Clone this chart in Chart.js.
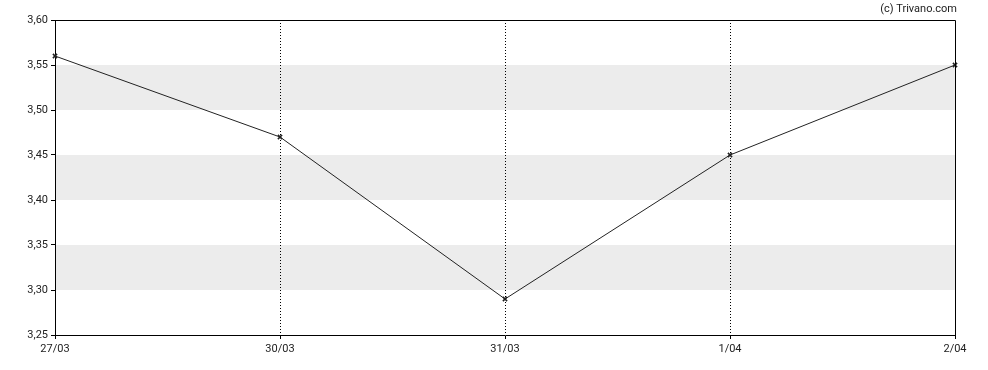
<!DOCTYPE html>
<html>
<head>
<meta charset="utf-8">
<script src="https://cdn.jsdelivr.net/npm/chart.js@4/dist/chart.umd.min.js"></script>
<style>
  html, body { margin: 0; padding: 0; background: #fff; }
  #wrap { width: 988px; height: 370px; }
</style>
</head>
<body>
<div id="wrap"><canvas id="price-chart"></canvas></div>
<script>
// data
const dates = ['27/03', '30/03', '31/03', '1/04', '2/04'];
const prices = [3.56, 3.47, 3.29, 3.45, 3.55];
const yMin = 3.25;
const yMax = 3.60;
const yStep = 0.05;
const bands = [[3.30, 3.35], [3.40, 3.45], [3.50, 3.55]];
const credit = '(c) Trivano.com';

const fmt = v => v.toFixed(2).replace('.', ',');

// grey bands (under the grid) + frame + credit line
const decor = {
    id: 'decor',
    beforeDraw(chart) {
        const { ctx, chartArea: a, scales: { y } } = chart;
        ctx.save();
        ctx.fillStyle = '#ececec';
        bands.forEach(([lo, hi]) => {
            const top = y.getPixelForValue(hi);
            const bot = y.getPixelForValue(lo);
            ctx.fillRect(a.left, top, a.right - a.left, bot - top);
        });
        ctx.restore();
    },
    afterDraw(chart) {
        const { ctx, chartArea: a } = chart;
        ctx.save();
        ctx.strokeStyle = '#000';
        ctx.lineWidth = 1;
        ctx.beginPath();
        ctx.moveTo(Math.round(a.left) + 0.5, Math.round(a.top) + 0.5);
        ctx.lineTo(Math.round(a.right) + 0.5, Math.round(a.top) + 0.5);
        ctx.lineTo(Math.round(a.right) + 0.5, Math.round(a.bottom) + 0.5);
        ctx.stroke();
        ctx.fillStyle = '#222';
        ctx.font = "11px Roboto";
        ctx.textAlign = 'right';
        ctx.textBaseline = 'middle';
        ctx.fillText(credit, a.right + 2, 9);
        ctx.restore();
    }
};

new Chart(document.getElementById('price-chart'), {
    type: 'line',
    data: {
        labels: dates,
        datasets: [{
            data: prices,
            borderColor: '#222',
            borderWidth: 1,
            tension: 0,
            fill: false,
            pointStyle: 'crossRot',
            pointRadius: 3,
            pointBorderWidth: 1.5,
            pointBorderColor: '#222'
        }]
    },
    options: {
        responsive: true,
        maintainAspectRatio: false,
        animation: false,
        layout: { padding: { top: 20, right: 33, left: 0, bottom: 0 } },
        plugins: {
            legend: { display: false },
            tooltip: { enabled: false }
        },
        scales: {
            x: {
                offset: false,
                afterFit: s => { s.height = 35; },
                grid: {
                    drawOnChartArea: true,
                    color: c => (c.index === 0 || c.index === dates.length - 1) ? 'rgba(0,0,0,0)' : '#000',
                    tickColor: '#000',
                    tickLength: 4,
                    lineWidth: 1
                },
                border: { display: true, color: '#000', width: 1, dash: [1, 2] },
                ticks: {
                    color: '#222',
                    font: { family: 'Roboto', size: 11 },
                    padding: 4,
                    maxRotation: 0,
                    autoSkip: false
                }
            },
            y: {
                min: yMin,
                max: yMax,
                afterFit: s => { s.width = 55; },
                grid: {
                    drawOnChartArea: false,
                    tickColor: '#000',
                    tickLength: 4
                },
                border: { display: true, color: '#000', width: 1 },
                ticks: {
                    stepSize: yStep,
                    color: '#222',
                    font: { family: 'Roboto', size: 11 },
                    padding: 3,
                    callback: v => fmt(v)
                }
            }
        }
    },
    plugins: [decor]
});
</script>
</body>
</html>
